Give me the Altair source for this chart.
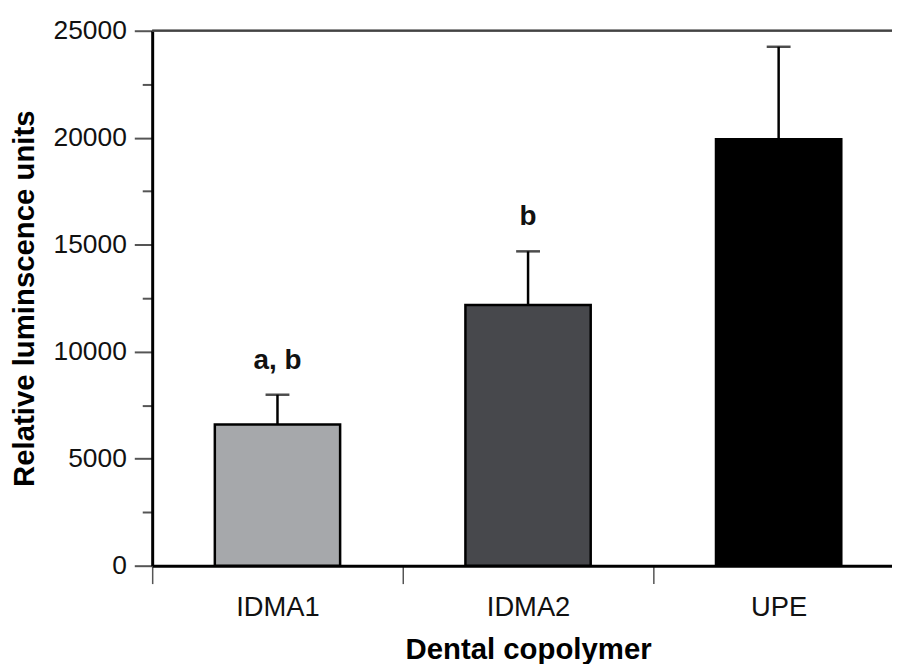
import altair as alt
import pandas as pd

categories = ["IDMA1", "IDMA2", "UPE"]
means = [6600, 12180, 19930]
upper = [7990, 14690, 24250]
letters = ["a, b", "b", ""]
bar_colors = ["#a6a8ab", "#47484c", "#000000"]

y_values = [0, 2500, 5000, 7500, 10000, 12500, 15000, 17500, 20000, 22500, 25000]

df = pd.DataFrame({
    "cat": categories,
    "mean": means,
    "upper": upper,
    "label": letters,
    "color": bar_colors,
})

FONT = "Liberation Sans"
W = 744
H = 538

y_scale = alt.Scale(domain=[0, 25000], nice=False, zero=True)
x_scale = alt.Scale(range=[0, 756], paddingInner=0, paddingOuter=0)

x_axis = alt.Axis(
    title="Dental copolymer", labelAngle=0, tickBand="extent",
    tickSize=18, tickWidth=1.5, tickColor="#555555",
    domainColor="#000000", domainWidth=3, grid=False,
    labelFont=FONT, labelFontSize=27.5, labelColor="#111111", labelPadding=10,
    titleFont=FONT, titleFontSize=29.5, titleFontWeight="bold",
    titleColor="#000000", titlePadding=15,
)
y_axis = alt.Axis(
    title="Relative luminscence units", values=y_values,
    labelExpr="datum.value % 5000 === 0 ? datum.label : ''",
    format="d",
    tickSize={"condition": {"test": "datum.value % 5000 === 0", "value": 18}, "value": 10},
    tickWidth=2, tickColor="#555555",
    domainColor="#000000", domainWidth=3, grid=False,
    labelFont=FONT, labelFontSize=26.5, labelColor="#111111", labelPadding=8,
    titleFont=FONT, titleFontSize=29.5, titleFontWeight="bold",
    titleColor="#000000", titlePadding=14,
)

x_enc = alt.X("cat:N", sort=categories, scale=x_scale, axis=x_axis)
base = alt.Chart(df)

bars = base.mark_bar(stroke="black", strokeWidth=2.5, width=alt.RelativeBandSize(0.5)).encode(
    x=x_enc,
    y=alt.Y("mean:Q", scale=y_scale, axis=y_axis),
    color=alt.Color("color:N", scale=None),
)
err = base.mark_rule(color="black", strokeWidth=2.5).encode(
    x=alt.X("cat:N", sort=categories),
    y="mean:Q",
    y2="upper:Q",
)
caps = base.mark_tick(color="black", size=24, thickness=2.5).encode(
    x=alt.X("cat:N", sort=categories),
    y="upper:Q",
)
txt = base.transform_filter("datum.label != ''").mark_text(
    dy=-34, font=FONT, fontSize=28, fontWeight="bold", color="#111111", baseline="middle"
).encode(
    x=alt.X("cat:N", sort=categories),
    y="upper:Q",
    text="label:N",
)
top = alt.Chart(df).mark_rule(color="#444444", strokeWidth=1.8).encode(
    y=alt.datum(25000)
)

chart = alt.layer(bars, err, caps, txt, top).properties(
    width=W, height=H,
    autosize=alt.AutoSizeParams(type="none"),
    padding={"left": 145, "top": 21, "right": 0, "bottom": 97},
).configure_view(stroke=None).configure(background="white")

chart.save("out.html", embed_options={"renderer": "svg", "actions": False})
